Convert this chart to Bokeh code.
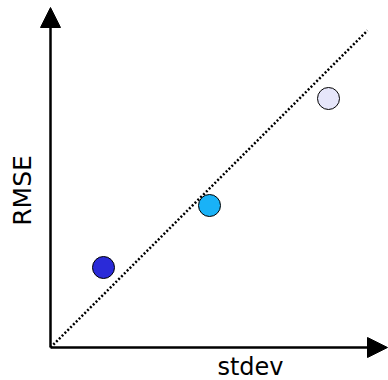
import math
from bokeh.plotting import figure
from bokeh.models import Range1d, Arrow, NormalHead, ColumnDataSource
from bokeh.core.properties import value
from bokeh.embed import file_html
from bokeh.resources import INLINE

# data
stdev = [0.53, 1.59, 2.78]
rmse = [0.80, 1.42, 2.49]
colors = ["#2a2ad8", "#19b2f7", "#e6e6fa"]
diag_max = 3.17
x_label = "stdev"
y_label = "RMSE"

p = figure(width=388, height=380, output_backend="svg", toolbar_location=None,
           x_range=Range1d(-0.50, 3.38), y_range=Range1d(-0.33, 3.47),
           min_border=0)
p.axis.visible = False
p.grid.visible = False
p.outline_line_color = None
p.background_fill_color = "white"

# identity line
p.line([0, diag_max], [0, diag_max], line_color="black", line_width=2.5, line_dash="2 2")

# axes arrows
p.add_layout(Arrow(end=NormalHead(size=20, fill_color="black", line_color="black"),
                   x_start=0, y_start=0, x_end=0, y_end=3.40,
                   line_width=2.5, line_color="black"))
p.add_layout(Arrow(end=NormalHead(size=20, fill_color="black", line_color="black"),
                   x_start=0, y_start=0, x_end=3.37, y_end=0,
                   line_width=2.5, line_color="black"))

src = ColumnDataSource(dict(x=stdev, y=rmse, c=colors))
p.scatter("x", "y", source=src, size=22, fill_color="c", line_color="black", line_width=1)

p.text([-0.285], [1.57], text=[y_label], angle=math.pi / 2, text_align="center",
       text_baseline="middle", text_font=value("DejaVu Sans"), text_font_size="25px",
       text_color="black")
p.text([2.0], [-0.19], text=[x_label], text_align="center",
       text_baseline="middle", text_font=value("DejaVu Sans"), text_font_size="24px",
       text_color="black")

open("out.html", "w").write(file_html(p, INLINE))
